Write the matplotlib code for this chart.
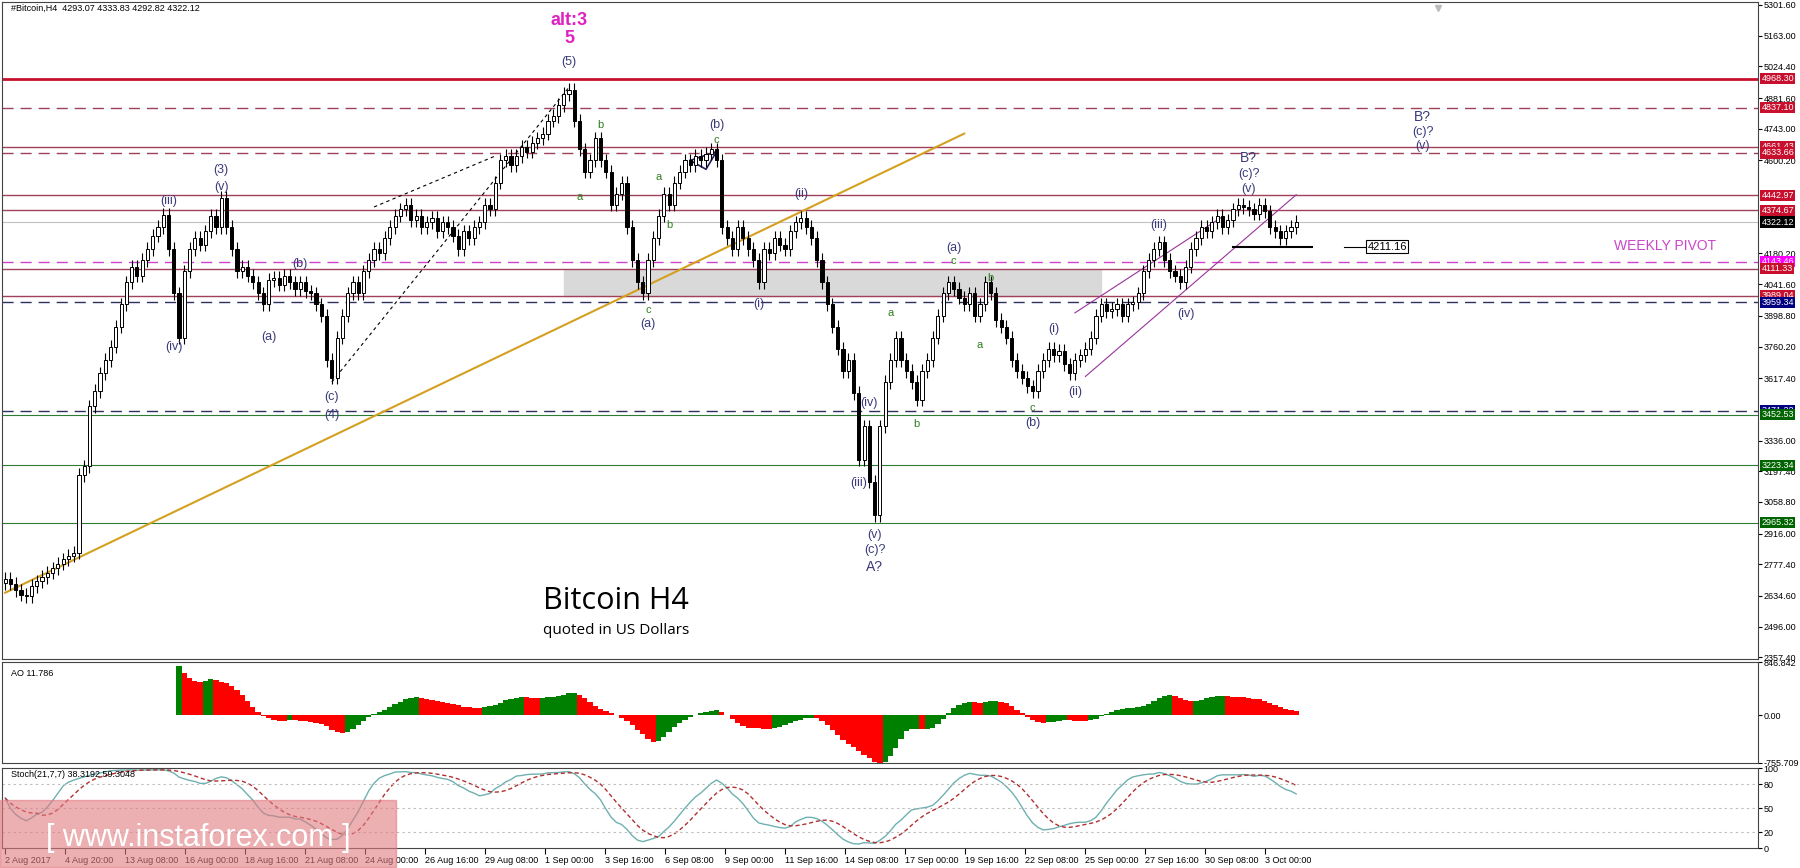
import numpy as np
import matplotlib
matplotlib.use("Agg")
import matplotlib.pyplot as plt
from matplotlib.patches import Rectangle

plt.rcParams['font.family'] = ['Liberation Sans', 'DejaVu Sans']

closes = [2712,2690,2660,2640,2633,2680,2700,2720,2740,2760,2780,2800,2816,2830,3180,3220,
3490,3560,3640,3700,3760,3850,3950,4050,4121,4080,4150,4200,4260,4300,4356,4200,4000,3800,4100,4200,
4250,4220,4280,4350,4300,4430,4300,4200,4100,4120,4080,4050,4000,3950,4060,4070,4040,4080,4050,4020,
4050,4010,4000,3950,3900,3700,3620,3800,3900,4000,4050,4000,4100,4150,4200,4180,4250,4300,4350,4380,
4400,4330,4350,4300,4320,4340,4280,4320,4300,4260,4200,4280,4250,4300,4320,4400,4380,4500,4600,4620,
4580,4620,4660,4640,4680,4700,4720,4780,4800,4850,4900,4920,4780,4650,4550,4600,4700,4600,4550,4400,
4450,4500,4300,4150,4050,4000,4150,4250,4350,4450,4400,4500,4550,4600,4580,4620,4600,4630,4650,4600,
4300,4250,4200,4300,4250,4200,4150,4050,4200,4180,4250,4220,4200,4280,4320,4340,4300,4250,4150,4050,
3950,3850,3750,3650,3700,3550,3250,3400,3150,3000,3400,3600,3700,3800,3700,3650,3600,3520,3650,3700,
3800,3900,4000,4050,4020,3980,3950,4000,3900,3950,4050,4000,3880,3850,3800,3700,3650,3620,3580,3560,
3650,3700,3750,3720,3740,3680,3640,3700,3720,3750,3800,3900,3950,3920,3930,3950,3900,3950,3960,4000,
4100,4150,4200,4230,4150,4100,4080,4050,4120,4200,4250,4300,4280,4320,4350,4300,4330,4380,4400,4390,
4380,4360,4400,4370,4300,4280,4250,4280,4300,4322.12]
date_labels = ["2 Aug 2017","4 Aug 20:00","13 Aug 08:00","16 Aug 00:00","18 Aug 16:00","21 Aug 08:00",
"24 Aug 00:00","26 Aug 16:00","29 Aug 08:00","1 Sep 00:00","3 Sep 16:00","6 Sep 08:00","9 Sep 00:00",
"11 Sep 16:00","14 Sep 08:00","17 Sep 00:00","19 Sep 16:00","22 Sep 08:00","25 Sep 00:00","27 Sep 16:00",
"30 Sep 08:00","3 Oct 00:00"]
price_ticks = [5301.60,5163.00,5024.40,4881.60,4743.00,4600.20,4180.20,4041.60,3898.80,3760.20,3617.40,
3336.00,3197.40,3058.80,2916.00,2777.40,2634.60,2496.00,2357.40]
# level lines: value, color, style, width, label bg
levels = [(4968.30,'#c8102e','-',2.0,'#c8102e'),(4837.10,'#a0405a',(0,(8,5)),1.0,'#c8102e'),
(4661.43,'#a0405a','-',1.0,'#c8102e'),(4633.66,'#a0405a',(0,(8,5)),1.0,'#c8102e'),
(4442.97,'#a0405a','-',1.0,'#c8102e'),(4374.67,'#a0405a','-',1.0,'#c8102e'),
(4322.12,'#c0c0c0','-',0.8,'#000000'),(4143.46,'#cc44cc',(0,(8,5)),1.0,'#ff00ff'),
(4111.33,'#a0405a','-',1.0,'#c8102e'),(3989.04,'#a0405a','-',1.0,'#c8102e'),
(3959.34,'#303060',(0,(8,5)),1.0,'#000080'),(3471.22,'#303060',(0,(8,5)),1.0,'#000080'),
(3452.53,'#2e7d32','-',0.8,'#006400'),(3223.34,'#2e7d32','-',0.8,'#006400'),(2965.32,'#2e7d32','-',0.8,'#006400')]

PX = 5.27
W, H = 1800, 868
fig = plt.figure(figsize=(18, 8.68), dpi=100)
L = 2/W; AW = 1756/W
ax = fig.add_axes([L, (H-659)/H, AW, 657/H])
ao_ax = fig.add_axes([L, (H-763)/H, AW, 101/H], sharex=ax)
st_ax = fig.add_axes([L, (H-848)/H, AW, 80/H], sharex=ax)

c = np.array(closes, float)
n = len(c)
x = np.arange(n)
o = np.concatenate([[c[0]-20], c[:-1]])
hi = np.maximum(o, c) + 30
lo = np.minimum(o, c) - 30
ax.vlines(x, lo, hi, color='black', lw=0.8, zorder=3)
up = c >= o
ax.bar(x[up], (c-o)[up], bottom=o[up], width=0.6, color='white', edgecolor='black', lw=0.7, zorder=4)
ax.bar(x[~up], (o-c)[~up], bottom=c[~up], width=0.6, color='black', edgecolor='black', lw=0.7, zorder=4)

xmin, xmax = -0.6, 1753/PX
ax.set_xlim(xmin, xmax)
ax.set_ylim(2350, 5315)

FS = 6.5
for v, col, ls, lw, bg in levels:
    ax.axhline(v, color=col, ls=ls, lw=lw, zorder=1)
    ax.text(1.002, v, f"{v:.2f}", transform=ax.get_yaxis_transform(), fontsize=FS, color='white',
            va='center', ha='left', bbox=dict(boxstyle='square,pad=0.12', fc=bg, ec='none'), zorder=6, clip_on=False)

ax.add_patch(Rectangle((106, 3990), 208-106, 4105-3990, color='#d9d9d9', zorder=0))
ax.plot([0, 182], [2649, 4721], color='#d4a020', lw=1.5, zorder=2)
ax.plot([62, 107], [3600, 4930], color='black', ls=(0,(3,3)), lw=0.8)
ax.plot([70, 93], [4390, 4620], color='black', ls=(0,(3,3)), lw=0.8)
ax.plot([205, 245], [3625, 4445], color='#993399', lw=0.8)
ax.plot([203, 231], [3912, 4346], color='#993399', lw=0.8)
ax.plot([130, 135, 133, 130], [4600, 4640, 4560, 4600], color='#202060', lw=1.2)
ax.plot([233, 248], [4211.16, 4211.16], color='black', lw=1.5)
ax.plot([254, 258], [4211.16, 4211.16], color='black', lw=0.8)
ax.text(258.5, 4211.16, "4211.16", fontsize=8, va='center', bbox=dict(boxstyle='square,pad=0.15', fc='white', ec='black', lw=0.8))
ax.text(315, 4180, "WEEKLY PIVOT", color='#cc44cc', fontsize=10, ha='center', va='bottom')
ax.plot([272], [5290], marker='v', color='#bbbbbb', ms=5)

navy = '#3a3a7a'; green = '#2e7d1e'
labels = [(107,5233,"alt:3",'#e020c0',13,'bold'),(107,5150,"5",'#e020c0',13,'bold'),(107,5045,"(5)",navy,9,'normal'),
(41,4555,"(3)",navy,9,'normal'),(41,4480,"(v)",navy,9,'normal'),(31,4419,"(iii)",navy,9,'normal'),
(32,3756,"(iv)",navy,9,'normal'),(56,4132,"(b)",navy,9,'normal'),(50,3803,"(a)",navy,9,'normal'),
(62,3531,"(c)",navy,9,'normal'),(62,3453,"(4)",navy,9,'normal'),(113,4758,"b",green,8,'normal'),
(109,4434,"a",green,8,'normal'),(135,4758,"(b)",navy,9,'normal'),(135,4690,"c",green,8,'normal'),
(124,4523,"a",green,8,'normal'),(126,4309,"b",green,8,'normal'),(122,3923,"c",green,8,'normal'),
(122,3860,"(a)",navy,9,'normal'),(143,3950,"(i)",navy,9,'normal'),(151,4450,"(ii)",navy,9,'normal'),
(168,3912,"a",green,8,'normal'),(173,3411,"b",green,8,'normal'),(164,3505,"(iv)",navy,9,'normal'),
(162,3144,"(iii)",navy,9,'normal'),(165,2910,"(v)",navy,9,'normal'),(165,2842,"(c)?",navy,9,'normal'),
(165,2764,"A?",navy,10,'normal'),(180,4205,"(a)",navy,9,'normal'),(180,4147,"c",green,8,'normal'),
(187,4069,"b",green,8,'normal'),(185,3766,"a",green,8,'normal'),(195,3416,"(b)",navy,9,'normal'),
(195,3484,"c",green,8,'normal'),(199,3839,"(i)",navy,9,'normal'),(203,3557,"(ii)",navy,9,'normal'),
(219,4309,"(iii)",navy,9,'normal'),(224,3907,"(iv)",navy,9,'normal'),
(236,4612,"B?",navy,10,'normal'),(236,4540,"(c)?",navy,9,'normal'),(236,4470,"(v)",navy,9,'normal'),
(269,4795,"B?",navy,10,'normal'),(269,4730,"(c)?",navy,9,'normal'),(269,4665,"(v)",navy,9,'normal')]
for bx, by, t, col, fs, fw in labels:
    ax.text(bx, by, t, color=col, fontsize=fs, fontweight=fw, ha='center', va='center')
ax.text(116, 2611, "Bitcoin H4", fontsize=22, ha='center', va='center', family=['Open Sans', 'DejaVu Sans'])
ax.text(116, 2480, "quoted in US Dollars", fontsize=11, ha='center', va='center', family=['Open Sans', 'DejaVu Sans'])
ax.text(0.005, 0.997, "#Bitcoin,H4  4293.07 4333.83 4292.82 4322.12", transform=ax.transAxes, fontsize=FS, va='top')

# AO
med = (hi + lo) / 2
def sma(a, p):
    out = np.full(len(a), np.nan)
    for i in range(p-1, len(a)):
        out[i] = a[i-p+1:i+1].mean()
    return out
ao = sma(med, 5) - sma(med, 34)
ao = np.nan_to_num(ao)
col = ['#008000' if i > 0 and ao[i] >= ao[i-1] else '#ff0000' for i in range(n)]
ao_ax.bar(x, ao, width=1.0, color=col)
ao_ax.set_ylim(-755.709, 846.842)
ao_ax.text(0.005, 0.93, "AO 11.786", transform=ao_ax.transAxes, fontsize=FS, va='top')

# Stoch
k_raw = np.full(n, np.nan)
for i in range(n):
    s = max(0, i-20)
    hh, ll = hi[s:i+1].max(), lo[s:i+1].min()
    k_raw[i] = 100*(c[i]-ll)/(hh-ll)
K = np.array([np.mean(k_raw[max(0, i-6):i+1]) for i in range(n)])
D = np.array([np.mean(K[max(0, i-6):i+1]) for i in range(n)])
st_ax.plot(x, K, color='#6fb0b0', lw=1)
st_ax.plot(x, D, color='#b03030', lw=1, ls=(0, (3, 2)))
for lv in (20, 50, 80):
    st_ax.axhline(lv, color='#bbbbbb', ls=(0, (2, 3)), lw=0.8)
st_ax.set_ylim(0, 100)
st_ax.text(0.005, 0.97, "Stoch(21,7,7) 38.3192 59.3048", transform=st_ax.transAxes, fontsize=FS, va='top')

for a in (ax, ao_ax, st_ax):
    a.yaxis.tick_right()
    a.tick_params(axis='y', labelsize=FS, length=3, pad=1)
    a.tick_params(axis='x', length=0)
    for s in a.spines.values():
        s.set_color('#444444')
ax.set_yticks(price_ticks)
ax.set_yticklabels([f"{t:.2f}" for t in price_ticks])
ao_ax.set_yticks([846.842, 0, -755.709]); ao_ax.set_yticklabels(["846.842", "0.00", "-755.709"])
st_ax.set_yticks([0, 20, 50, 80, 100])
plt.setp(ax.get_xticklabels(), visible=False)
plt.setp(ao_ax.get_xticklabels(), visible=False)
tick_pos = [(5 + 60*k - 5)/PX for k in range(len(date_labels))]
st_ax.set_xticks(tick_pos)
st_ax.set_xticklabels(date_labels, fontsize=FS, ha='left')
st_ax.tick_params(axis='x', length=4, direction='out', pad=2)

fig.patches.append(Rectangle((0, 1/H), 396/W, 67/H, transform=fig.transFigure, color='#e07a80', alpha=0.6, zorder=10))
fig.text(198/W, 30/H, "[ www.instaforex.com ]", fontsize=22, color='white', ha='center', va='center', zorder=11)
fig.savefig("out.png", dpi=100)
